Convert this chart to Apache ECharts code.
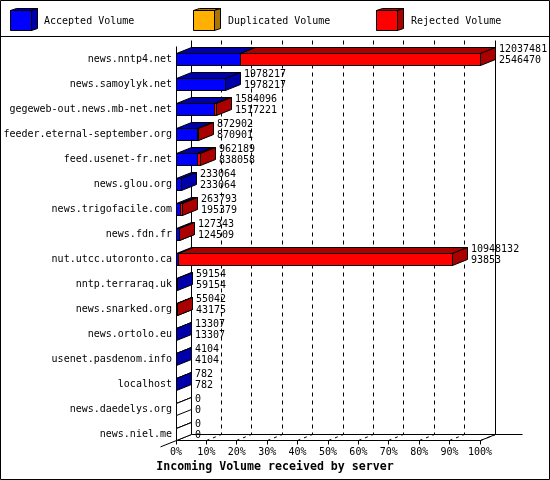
<!DOCTYPE html>
<html><head><meta charset="utf-8">
<script src="https://cdn.jsdelivr.net/npm/echarts@6/dist/echarts.min.js"></script>
<style>html,body{margin:0;padding:0;background:#fff}#c{width:550px;height:480px}</style>
</head><body><div id="c"></div>
<script>
const categories = ["news.nntp4.net","news.samoylyk.net","gegeweb-out.news.mb-net.net","feeder.eternal-september.org","feed.usenet-fr.net","news.glou.org","news.trigofacile.com","news.fdn.fr","nut.utcc.utoronto.ca","nntp.terraraq.uk","news.snarked.org","news.ortolo.eu","usenet.pasdenom.info","localhost","news.daedelys.org","news.niel.me"];
const totalVolume = [12037481,1978217,1584096,872902,962189,233064,263793,127343,10948132,59154,55042,13307,4104,782,0,0];
const acceptedVolume = [2546470,1978217,1517221,870901,838058,233064,195379,124509,93853,59154,43175,13307,4104,782,0,0];
const duplicatedVolume = [0,0,0,0,0,0,0,0,0,0,0,0,0,0,0,0];
const rejectedVolume = [9491011,0,66875,2001,124131,0,68414,2834,10854279,0,11867,0,0,0,0,0];
const tickLabels = ["0%","10%","20%","30%","40%","50%","60%","70%","80%","90%","100%"];
const seriesNames = ["Accepted Volume","Duplicated Volume","Rejected Volume"];
const frontColors = ["#0000ff","#ffb000","#ff0000"];
const darkColors = ["#0000aa","#aa7500","#aa0000"];
const axisTitle = "Incoming Volume received by server";

const MAXV = Math.max(...totalVolume);
const FONT = '"DejaVu Sans Mono", monospace';
const DX = 15, DY = 6, HALF = 6;
function px(v){ return Math.floor(v + 1e-6) + 0.5; }
const ST = {stroke:'#000', lineWidth:1};

function barRenderer(s, drawZero) {
  return function (params, api) {
    const idx = api.value(0), a = api.value(1), b = api.value(2);
    const zero = !(b - a > 0);
    if (zero && !drawZero) return null;
    const p0 = api.coord([a * 100 / MAXV, idx]);
    const p1 = api.coord([b * 100 / MAXV, idx]);
    const x0 = px(p0[0]), x1 = px(p1[0]);
    const yt = px(p0[1] - HALF), yb = px(p0[1] + HALF);
    const f = zero ? '#fff' : frontColors[s], d = zero ? '#fff' : darkColors[s];
    return {type:'group', children:[
      {type:'polygon', shape:{points:[[x0,yt],[x1,yt],[x1,yb],[x0,yb]]}, style:Object.assign({fill:f}, ST)},
      {type:'polygon', shape:{points:[[x0,yt],[x0+DX,yt-DY],[x1+DX,yt-DY],[x1,yt]]}, style:Object.assign({fill:d}, ST)},
      {type:'polygon', shape:{points:[[x1,yt],[x1+DX,yt-DY],[x1+DX,yb-DY],[x1,yb]]}, style:Object.assign({fill:d}, ST)}
    ]};
  };
}

function labelRenderer(params, api) {
  const idx = api.value(0);
  const p = api.coord([api.value(1) * 100 / MAXV, idx]);
  const x = Math.floor(p[0] + 1e-6) + DX + 4;
  const ts = {fontFamily: FONT, fontSize: 10, fill:'#000', align:'left', verticalAlign:'middle'};
  return {type:'group', children:[
    {type:'text', style:Object.assign({text:String(api.value(1)), x:x, y:p[1]-10}, ts)},
    {type:'text', style:Object.assign({text:String(api.value(2)), x:x, y:p[1]+1}, ts)}
  ]};
}

function frameRenderer(params, api) {
  const N = categories.length;
  const first = api.coord([0, 0]), last = api.coord([0, N-1]);
  const xL = px(first[0]);
  const xR = px(api.coord([100, 0])[0]);
  const yTop = px(first[1] - 19.5);
  const yF = px(last[1] + HALF);
  const yB = yF - DY;
  const L = (x1,y1,x2,y2,dash) => ({type:'line', shape:{x1,y1,x2,y2}, style:Object.assign({fill:null, lineDash: dash || null}, ST)});
  const ch = [];
  for (let k = 1; k <= 9; k++) {
    const xk = px(api.coord([k*10, 0])[0]);
    ch.push(L(xk+DX, yTop, xk+DX, yB, [4,4]));
  }
  ch.push(L(xL+DX, yTop, xL+DX, yB));
  ch.push(L(xL, yTop+DY, xL, yF));
  ch.push(L(xR+DX, yTop, xR+DX, yB));
  ch.push(L(xL+DX, yB, xR+42, yB));
  ch.push(L(xL, yF, xR, yF));
  ch.push(L(xR, yF, xR+DX, yB));
  ch.push(L(xL-16, yF+6.4, xL+DX, yB));
  for (let k = 0; k <= 10; k++) {
    const xk = px(api.coord([k*10, 0])[0]);
    ch.push(L(xk, yF, xk, yF+4));
    if (k > 0) ch.push(L(xk, yF, xk+DX, yB, [3,4]));
  }
  return {type:'group', children:ch};
}

const idxs = categories.map((c,i)=>i);
const accData = idxs.map(i => [i, 0, acceptedVolume[i]]);
const dupData = idxs.map(i => [i, acceptedVolume[i], acceptedVolume[i] + duplicatedVolume[i]]);
const rejData = idxs.map(i => [i, acceptedVolume[i] + duplicatedVolume[i], acceptedVolume[i] + duplicatedVolume[i] + rejectedVolume[i]]);
const labData = idxs.map(i => [i, totalVolume[i], acceptedVolume[i]]);

// legend graphics
const legendX = [10, 193, 376], legendTextX = [44, 228, 411];
const legendChildren = [];
seriesNames.forEach((n, s) => {
  const x0 = legendX[s] + 0.5, x1 = x0 + 21, y0 = 10.5, y1 = 30.5, dx = 6, dy = 2;
  legendChildren.push({type:'polygon', shape:{points:[[x0,y0],[x1,y0],[x1,y1],[x0,y1]]}, style:Object.assign({fill:frontColors[s]}, ST)});
  legendChildren.push({type:'polygon', shape:{points:[[x0,y0],[x0+dx,y0-dy],[x1+dx,y0-dy],[x1,y0]]}, style:Object.assign({fill:darkColors[s]}, ST)});
  legendChildren.push({type:'polygon', shape:{points:[[x1,y0],[x1+dx,y0-dy],[x1+dx,y1-dy],[x1,y1]]}, style:Object.assign({fill:darkColors[s]}, ST)});
  legendChildren.push({type:'text', style:{text:n, x:legendTextX[s], y:21, fontFamily:FONT, fontSize:10, fill:'#000', verticalAlign:'middle'}});
});

const chart = echarts.init(document.getElementById('c'));
chart.setOption({
  backgroundColor:'#fff',
  animation:false,
  title:{text:axisTitle, left:'center', top:461, padding:0, textStyle:{fontFamily:FONT, fontSize:11.6, fontWeight:'bold', color:'#000'}},
  grid:{left:176, width:304, top:47, height:400},
  xAxis:{type:'value', min:0, max:100, interval:10, axisLine:{show:false}, axisTick:{show:false}, splitLine:{show:false},
    axisLabel:{margin:0, fontFamily:FONT, fontSize:10, color:'#000', formatter:(v)=>tickLabels[Math.round(v/10)]}},
  yAxis:{type:'category', inverse:true, data:categories, axisLine:{show:false}, axisTick:{show:false}, splitLine:{show:false},
    axisLabel:{margin:4, fontFamily:FONT, fontSize:10, color:'#000'}},
  graphic:[
    {type:'rect', shape:{x:0.5, y:0.5, width:549, height:479}, style:{fill:null, stroke:'#000', lineWidth:1}, z:100},
    {type:'line', shape:{x1:0, y1:36.5, x2:550, y2:36.5}, style:{stroke:'#000', lineWidth:1}},
    {type:'group', children:legendChildren}
  ],
  series:[
    {type:'custom', name:'frame', z:1, renderItem:frameRenderer, data:[[0,0,0]], encode:{x:1,y:0}, silent:true},
    {type:'custom', name:seriesNames[0], z:2, renderItem:barRenderer(0,true), data:accData, encode:{x:[1,2], y:0}},
    {type:'custom', name:seriesNames[1], z:2, renderItem:barRenderer(1,false), data:dupData, encode:{x:[1,2], y:0}},
    {type:'custom', name:seriesNames[2], z:2, renderItem:barRenderer(2,false), data:rejData, encode:{x:[1,2], y:0}},
    {type:'custom', name:'values', z:3, renderItem:labelRenderer, data:labData, encode:{x:1, y:0}}
  ]
});
</script></body></html>
